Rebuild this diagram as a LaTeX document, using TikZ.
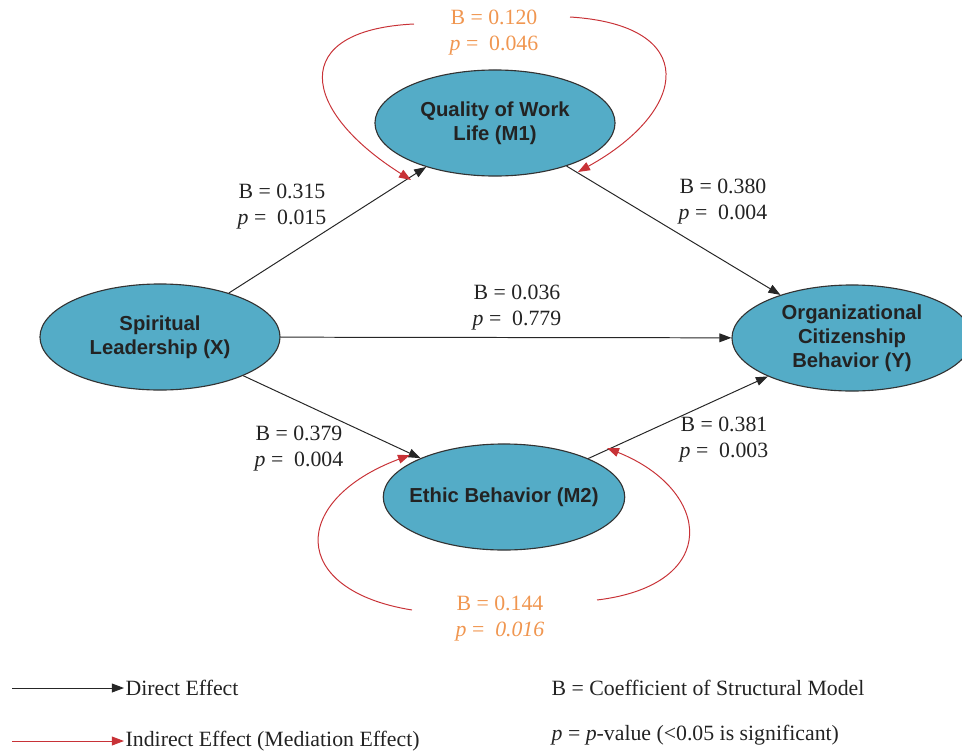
\documentclass[tikz,border=0pt]{standalone}
\usepackage{fontspec}
\setmainfont{Liberation Serif}
\newfontfamily\nodefont{Liberation Sans}
\usepackage{tikz}
\usetikzlibrary{shapes.geometric}
\usetikzlibrary{arrows.meta}
\definecolor{varfill}{RGB}{84,172,199}
\definecolor{indred}{RGB}{200,50,55}
\definecolor{coeforange}{RGB}{240,150,80}
\definecolor{txtgray}{RGB}{35,35,35}

\begin{document}
\begin{tikzpicture}[
  x=0.025cm, y=-0.025cm,
  var/.style={ellipse,draw=black!80,fill=varfill,line width=0.8pt,minimum width=6cm,
    minimum height=2.65cm,inner sep=0pt,align=center,text=txtgray,
    font=\nodefont\bfseries\fontsize{14.4}{17}\selectfont},
  coef/.style={align=center,text=txtgray,font=\fontsize{15.5}{18.5}\selectfont},
  ind/.style={coef,text=coeforange},
  legend/.style={anchor=west,inner sep=1pt,text=txtgray,font=\fontsize{15.5}{18.5}\selectfont},
  direct/.style={-{Triangle[length=3mm,width=2.2mm]},line width=0.7pt,black!85},
  indirect/.style={direct,indred}
]
  \useasboundingbox (0,0) rectangle (962,751);

  % constructs
  \node[var] (X)  at (160,337) {Spiritual\\Leadership (X)};
  \node[var] (M1) at (495,123) {Quality of Work\\Life (M1)};
  \node[var,inner xsep=-6.5pt] (M2) at (504,497) {Ethic Behavior (M2)};
  \node[var] (Y)  at (852,338) {Organizational\\Citizenship\\Behavior (Y)};

  % direct paths
  \draw[direct] (X) -- (M1);
  \draw[direct] (X) -- (Y);
  \draw[direct] (X) -- (M2);
  \draw[direct] (M1) -- (Y);
  \draw[direct] (M2) -- (Y);

  \node[coef] (cXM1) at (282,207) {B = 0.315\\\textit{p} = \ 0.015};
  \node[coef] (cM1Y) at (723,202) {B = 0.380\\\textit{p} = \ 0.004};
  \node[coef] (cXY)  at (517,308) {B = 0.036\\\textit{p} = \ 0.779};
  \node[coef] (cXM2) at (299,449) {B = 0.379\\\textit{p} = \ 0.004};
  \node[coef] (cM2Y) at (724,440) {B = 0.381\\\textit{p} = \ 0.003};

  % indirect paths
  \node[ind] (iM1) at (494,33)  {B = 0.120\\\textit{p} = \ 0.046};
  \node[ind] (iM2) at (500,619) {B = 0.144\\\textit{p} = \ \textit{0.016}};

  \coordinate (a1) at (414,24);  \coordinate (a1e) at (411,180);
  \coordinate (a2) at (570,17);  \coordinate (a2e) at (578,172);
  \coordinate (b1) at (412,610); \coordinate (b1e) at (410,455);
  \coordinate (b2) at (597,600); \coordinate (b2e) at (607,448);
  \draw[indirect] (a1) .. controls (288,30) and (300,110) .. (a1e);
  \draw[indirect] (a2) .. controls (700,25) and (690,110) .. (a2e);
  \draw[indirect] (b1) .. controls (288,590) and (290,500) .. (b1e);
  \draw[indirect] (b2) .. controls (722,585) and (712,490) .. (b2e);

  % legend
  \node[legend] (ldir) at (124,688) {Direct Effect};
  \node[legend] (lind) at (124,741) {Indirect Effect (Mediation Effect)};
  \coordinate (ld) at (12,688);
  \coordinate (li) at (12,741);
  \draw[direct] (ld) -- (ldir.west);
  \draw[indirect] (li) -- (lind.west);
  \node[legend] (lB) at (550,688) {B = Coefficient of Structural Model};
  \node[legend] (lp) at (550,735) {\textit{p} = \textit{p}-value (<0.05 is significant)};
\end{tikzpicture}
\end{document}
